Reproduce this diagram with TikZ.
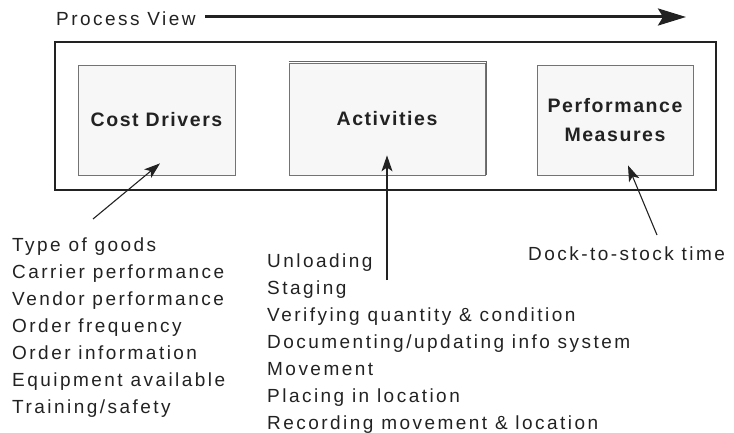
\documentclass[tikz,border=0pt]{standalone}
\usepackage{fontspec}
\setmainfont[LetterSpace=13]{Liberation Sans}
\newfontfamily\boxfont[LetterSpace=8]{Liberation Sans}
\usetikzlibrary{arrows.meta,positioning,calc}
\definecolor{ink}{HTML}{222222}
\tikzset{
  >=Stealth,
  stage/.style={rectangle,draw=black!55,fill=black!3,line width=0.8pt,inner sep=0pt,align=center,
    text=ink,font=\boxfont\bfseries\fontsize{19.5}{29}\selectfont},
  frame/.style={draw=ink,line width=1.8pt},
  tr/.style={-{Stealth[length=16pt,width=11pt,inset=4pt]}, line width=1.1pt, draw=ink},
  lbl/.style={inner sep=0pt,align=left,text=ink,font=\fontsize{19}{26.9}\selectfont}
}
\begin{document}
\begin{tikzpicture}[x=1pt,y=-1pt]
    \useasboundingbox (0,0) rectangle (734,433);

    % Process view arrow
    \node[lbl,anchor=base west] (pv) at (56,26) {Process View};
    \coordinate (pvstart) at (205,17);
    \coordinate (pvend) at (686,17);
    \draw[-{Stealth[length=28pt,width=17pt,inset=5pt]},line width=3pt,draw=ink] (pvstart) -- (pvend);

    % Outer frame
    \draw[frame] (55,42) rectangle (716,190);

    % Stages
    \node[stage,minimum width=157pt,minimum height=110pt] (cd) at (156.5,120) {Cost Drivers};
    \node[stage,minimum width=196pt,minimum height=112pt] (act) at (387,119) {Activities};
    \node[stage,minimum width=156pt,minimum height=110pt] (pm) at (615,120) {Performance\\Measures};
    \draw[black!60,line width=1.6pt] ([yshift=1pt]act.north west) -- ([xshift=1pt,yshift=1pt]act.north east)
        -- ([xshift=1pt]act.south east);

    % Lists
    \node[lbl,anchor=north west] (cdlist) at (12,238) {Type of goods\\Carrier performance\\Vendor performance\\
        Order frequency\\Order information\\Equipment available\\Training/safety};
    \node[lbl,anchor=north west] (actlist) at (267,254) {Unloading\\Staging\\Verifying quantity \& condition\\
        Documenting/updating info system\\Movement\\Placing in location\\Recording movement \& location};
    \node[lbl,anchor=base west] (pmlist) at (528,260) {Dock-to-stock time};

    % Arrows into the stages
    \coordinate (cdtail) at (93,219);
    \coordinate (acttail) at (387,280);
    \coordinate (pmtail) at (657,235);
    \draw[tr] (cdtail) -- ([xshift=3.5pt,yshift=12pt]cd.south);
    \draw[tr] (acttail) -- ([yshift=20pt]act.south);
    \draw[tr] (pmtail) -- ([xshift=13pt,yshift=10pt]pm.south);

\end{tikzpicture}
\end{document}
